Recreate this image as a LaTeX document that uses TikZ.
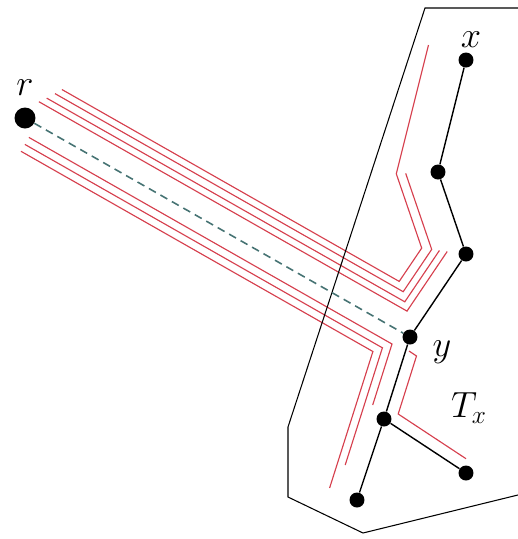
\documentclass[tikz,border=0pt]{standalone}
\usepackage{amsmath,amssymb}
\usetikzlibrary{positioning}
\definecolor{routered}{RGB}{214,64,78}
\definecolor{dashteal}{RGB}{70,115,115}

\begin{document}
\begin{tikzpicture}[
    x=0.02cm, y=-0.02cm,
    font=\fontsize{21}{25}\selectfont,
    vertex/.style={circle, fill=black, inner sep=0pt, minimum size=0.3cm},
    rootv/.style={vertex, minimum size=0.42cm},
    edge/.style={line width=0.8pt},
    route/.style={routered, line width=0.65pt},
    region/.style={line width=0.6pt},
    shortcut/.style={dashteal, line width=0.9pt, dash pattern=on 4.5pt off 3pt},
]
\useasboundingbox (0,0) rectangle (518,539);

% routes above r--y, wrapping the path to x
\draw[route] (61.9,89.5) -- (399.2,281.4) -- (421.7,248.1) -- (396.3,173.8) -- (428.5,45);
\draw[route] (55.0,93.6) -- (403.2,291.7) -- (431.7,249.4) -- (405.7,173.4);
\draw[route] (46.7,98.1) -- (404.8,301.8) -- (439.4,250.5);
\draw[route] (38.9,101.7) -- (407.0,311.1) -- (447.2,251.5);
% routes below r--y
\draw[route] (28.9,137.4) -- (392.0,344.0) -- (372.7,405);
\draw[route] (24.9,144.4) -- (382.4,347.8) -- (345.2,465);
\draw[route] (21.0,151.3) -- (372.9,351.5) -- (329.6,488);
\draw[route] (409,351) -- (416.5,356) -- (398.2,414.0) -- (466,458.7);

% region of T_x
\draw[region] (522,8) -- (425,8) -- (288,427) -- (288,497) -- (363,533) -- (522,494);

\node[rootv] (root) at (25,118) {};
\node[vertex] (nx) at (466,60) {};
\node[vertex] (na) at (438,172) {};
\node[vertex] (nb) at (466,254) {};
\node[vertex] (ny) at (410,337) {};
\node[vertex] (nc) at (384,419) {};
\node[vertex] (nd) at (466,473) {};
\node[vertex] (ne) at (357,500) {};

\node (lr) at (25,88) {$r$};
\node (lx) at (471,40) {$x$};
\node (ly) at (442,352) {$y$};
\node (lt) at (469,408) {$T_x$};

\draw[shortcut] (root) -- (ny);
\draw[edge] (nx) -- (na) -- (nb) -- (ny) -- (nc) -- (nd);
\draw[edge] (nc) -- (ne);
\end{tikzpicture}
\end{document}
